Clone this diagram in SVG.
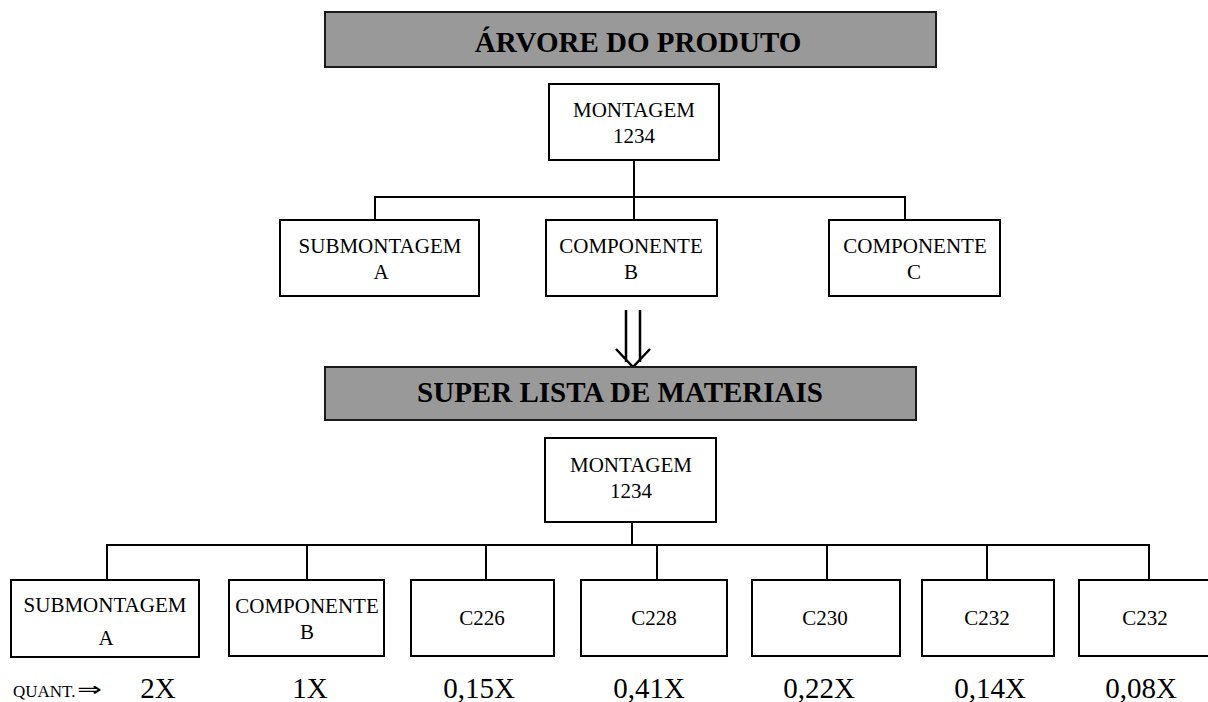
<svg xmlns="http://www.w3.org/2000/svg" width="1208" height="702" viewBox="0 0 1208 702">
<style>
.bg{fill:#ffffff}
.title{fill:#999999;stroke:#1a1a1a;stroke-width:2}
.box{fill:#ffffff;stroke:#000000;stroke-width:2}
.tt{font-family:"Liberation Serif","Times New Roman",serif;font-weight:bold;font-size:29px;fill:#000;text-anchor:middle}
.lb{font-family:"Liberation Serif","Times New Roman",serif;font-size:21px;fill:#000;text-anchor:middle}
.q{font-family:"Liberation Serif","Times New Roman",serif;font-size:29px;fill:#000;text-anchor:middle}
.qs{font-family:"Liberation Serif","DejaVu Serif",serif;font-size:17px;fill:#000}
.qa{font-family:"DejaVu Sans",sans-serif;font-size:20px;fill:#000}
.ln{fill:none;stroke:#000;stroke-width:2}
.ar{fill:none;stroke:#000;stroke-width:2.5}
</style>
<rect class="bg" x="0" y="0" width="1208" height="702"/>

<g id="title-arvore">
<rect class="title" x="325" y="12" width="611" height="55"/>
<text class="tt" x="638" y="52">ÁRVORE DO PRODUTO</text>
</g>

<g id="connectors">
<path class="ln" d="M634 160V197M375 220V197H905V220M634 197V220"/>
<path class="ln" d="M632 522V545M107 580V545H1149V580M307 545V580M486 545V580M657 545V580M827 545V580M987 545V580"/>
<path class="ar" d="M626 310V362M640 310V362M616 349L633 367L650 349"/>
</g>

<g id="n-montagem-top">
<rect class="box" x="549" y="84" width="170" height="76"/>
<text class="lb" x="634" y="117">MONTAGEM</text>
<text class="lb" x="634" y="143">1234</text>
</g>
<g id="n-sub-a-top">
<rect class="box" x="280" y="220" width="199" height="76"/>
<text class="lb" x="380" y="253">SUBMONTAGEM</text>
<text class="lb" x="381" y="279">A</text>
</g>
<g id="n-comp-b-top">
<rect class="box" x="546" y="220" width="171" height="76"/>
<text class="lb" x="631" y="253">COMPONENTE</text>
<text class="lb" x="631" y="279">B</text>
</g>
<g id="n-comp-c-top">
<rect class="box" x="829" y="220" width="171" height="76"/>
<text class="lb" x="915" y="253">COMPONENTE</text>
<text class="lb" x="914" y="279">C</text>
</g>

<g id="title-super">
<rect class="title" x="325" y="367" width="591" height="53"/>
<text class="tt" x="620" y="402">SUPER LISTA DE MATERIAIS</text>
</g>

<g id="n-montagem-bottom">
<rect class="box" x="545" y="438" width="171" height="84"/>
<text class="lb" x="631" y="472">MONTAGEM</text>
<text class="lb" x="631" y="498">1234</text>
</g>
<g id="n-sub-a">
<rect class="box" x="11" y="580" width="188" height="77"/>
<text class="lb" x="105" y="612">SUBMONTAGEM</text>
<text class="lb" x="106" y="645">A</text>
</g>
<g id="n-comp-b">
<rect class="box" x="229" y="580" width="155" height="76"/>
<text class="lb" x="307" y="613">COMPONENTE</text>
<text class="lb" x="307" y="639">B</text>
</g>
<g id="n-c226">
<rect class="box" x="411" y="580" width="143" height="76"/>
<text class="lb" x="482" y="625">C226</text>
</g>
<g id="n-c228">
<rect class="box" x="581" y="580" width="146" height="76"/>
<text class="lb" x="654" y="625">C228</text>
</g>
<g id="n-c230">
<rect class="box" x="752" y="580" width="148" height="76"/>
<text class="lb" x="825" y="625">C230</text>
</g>
<g id="n-c232a">
<rect class="box" x="922" y="580" width="132" height="76"/>
<text class="lb" x="987" y="625">C232</text>
</g>
<g id="n-c232b">
<rect class="box" x="1079" y="580" width="135" height="76"/>
<text class="lb" x="1145" y="625">C232</text>
</g>

<g id="quantities">
<text class="qs" x="13" y="697">QUANT.</text>
<text class="qa" x="77" y="696" textLength="25" lengthAdjust="spacingAndGlyphs">⇒</text>
<text class="q" x="158" y="698">2X</text>
<text class="q" x="310" y="698">1X</text>
<text class="q" x="479" y="698">0,15X</text>
<text class="q" x="649" y="698">0,41X</text>
<text class="q" x="819" y="698">0,22X</text>
<text class="q" x="990" y="698">0,14X</text>
<text class="q" x="1141" y="698">0,08X</text>
</g>
</svg>
